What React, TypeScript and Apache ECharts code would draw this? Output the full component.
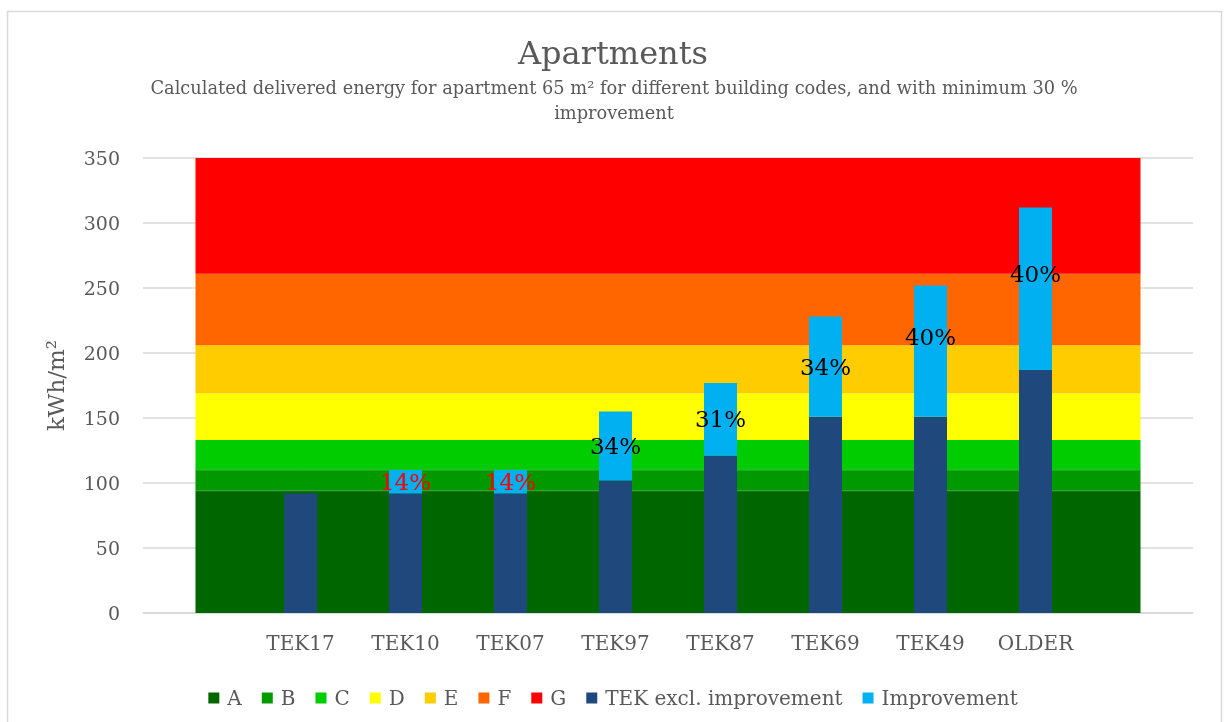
import React, { useEffect, useRef } from "react";
import * as echarts from "echarts";

// ---- data ----
const codes = ["TEK17", "TEK10", "TEK07", "TEK97", "TEK87", "TEK69", "TEK49", "OLDER"];
const categories = ["", ...codes, ""];
const bandNames = ["A", "B", "C", "D", "E", "F", "G"];
const bandUpper = [94, 110, 133, 169, 206, 261, 350];
const tekExcl = [92, 92, 92, 102, 121, 151, 151, 187];
const improvement = [0, 18, 18, 53, 56, 77, 101, 125];
const improvementLabels = ["", "14%", "14%", "34%", "31%", "34%", "40%", "40%"];
const yTicks = { min: 0, max: 350, interval: 50 };
const titleText = "Apartments";
const subtitleText =
  "Calculated delivered energy for apartment 65 m² for different building codes, and with minimum 30 %\nimprovement";

// ---- styles ----
const bandColors = ["#006600", "#009900", "#00cc00", "#ffff00", "#ffcc00", "#ff6600", "#ff0000"];
const bandLine = ["#3f9a3f", "#3fb83f", null, null, null, null, null];
const tekColor = "#1f497d";
const impColor = "#00b0f0";
const redLabelCodes = ["TEK10", "TEK07"];
const labelShift: Record<string, number> = { TEK49: -14, OLDER: -15 };
const FONT = "DejaVu Serif";
const GREY = "#595959";

export default function App() {
  const ref = useRef<HTMLDivElement>(null);
  useEffect(() => {
    if (!ref.current) return;
    const chart = echarts.init(ref.current, null, { renderer: "svg" });

    const bandSeries = bandNames.map((name, i) => {
      const thickness = bandUpper[i] - (i === 0 ? 0 : bandUpper[i - 1]);
      return {
        name,
        type: "line",
        stack: "bands",
        symbol: "none",
        z: 1,
        data: categories.map(() => thickness),
        itemStyle: { color: bandColors[i] },
        lineStyle: bandLine[i] ? { color: bandLine[i], width: 1 } : { width: 0, color: bandColors[i] },
        areaStyle: { color: bandColors[i], opacity: 1 },
        emphasis: { disabled: true },
      };
    });

    const pad = (arr: any[]) => ["-", ...arr, "-"];

    const option: any = {
      animation: false,
      textStyle: { fontFamily: FONT },
      title: {
        text: titleText,
        left: "center",
        top: 28,
        textStyle: { fontFamily: FONT, fontSize: 32, fontWeight: "normal", color: GREY, lineHeight: 40 },
      },
      graphic: [
        {
          type: "rect",
          shape: { x: 7.5, y: 11.5, width: 1214, height: 720 },
          style: { fill: "none", stroke: "#d9d9d9", lineWidth: 1.5 },
          silent: true,
        },
        {
          type: "text",
          x: 614,
          y: 75,
          silent: true,
          style: {
            text: subtitleText,
            textAlign: "center",
            textVerticalAlign: "top",
            fontFamily: FONT,
            fontSize: 17.8,
            lineHeight: 25,
            fill: GREY,
          },
        },
      ],
      legend: {
        left: "center",
        top: 682,
        icon: "rect",
        itemWidth: 11,
        itemHeight: 11,
        itemGap: 20,
        textStyle: { fontFamily: FONT, fontSize: 20, color: GREY, lineHeight: 22, padding: [0, 0, 0, 3] },
        data: [
          ...bandNames.map((n, i) => ({ name: n, itemStyle: { color: bandColors[i], borderWidth: 0 } })),
          { name: "TEK excl. improvement", itemStyle: { color: tekColor } },
          { name: "Improvement", itemStyle: { color: impColor } },
        ],
      },
      grid: { left: 143, right: 33, top: 158, bottom: 109 },
      xAxis: {
        type: "category",
        data: categories,
        boundaryGap: true,
        axisLine: { lineStyle: { color: "#d9d9d9", width: 1.5 } },
        axisTick: { show: false },
        axisLabel: { interval: 0, fontFamily: FONT, fontSize: 20, color: GREY, margin: 20 },
      },
      yAxis: {
        type: "value",
        min: yTicks.min,
        max: yTicks.max,
        interval: yTicks.interval,
        name: "kWh/m²",
        nameLocation: "middle",
        nameGap: 76,
        nameTextStyle: { fontFamily: FONT, fontSize: 23, color: GREY },
        axisLine: { show: false },
        axisTick: { show: false },
        splitLine: { lineStyle: { color: "#d9d9d9", width: 1.5 } },
        axisLabel: { fontFamily: FONT, fontSize: 19, color: GREY, margin: 23 },
      },
      series: [
        ...bandSeries,
        {
          name: "TEK excl. improvement",
          type: "bar",
          stack: "tek",
          barWidth: 33,
          z: 3,
          itemStyle: { color: tekColor },
          data: pad(tekExcl),
        },
        {
          name: "Improvement",
          type: "bar",
          stack: "tek",
          barWidth: 33,
          z: 3,
          itemStyle: { color: impColor },
          data: pad(
            improvement.map((v, i) => ({
              value: v,
              label: {
                show: true,
                position: "inside",
                formatter: improvementLabels[i],
                fontFamily: FONT,
                fontSize: 23,
                color: redLabelCodes.includes(codes[i]) ? "#ff0000" : "#000000",
                offset: [0, labelShift[codes[i]] || 0],
              },
            }))
          ),
        },
      ],
    };

    chart.setOption(option);
    return () => chart.dispose();
  }, []);

  return <div ref={ref} style={{ position: "fixed", left: 0, top: 0, width: 1226, height: 722 }} />;
}
